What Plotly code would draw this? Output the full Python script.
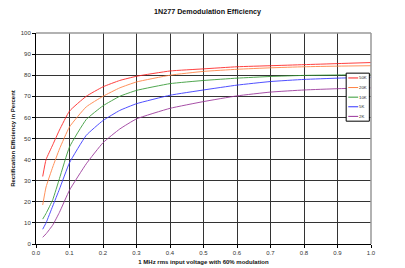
import plotly.graph_objects as go

x_vals = [0.02, 0.03, 0.05, 0.07, 0.1, 0.15, 0.2, 0.25, 0.3, 0.4, 0.5, 0.6, 0.7, 0.8, 0.9, 1.0]

series_names = ["50K", "20K", "10K", "5K", "2K"]
eff_50k = [32, 40, 47, 54, 63, 70, 74.5, 77.5, 79.5, 82, 83, 84, 84.5, 85, 85.5, 86]
eff_20k = [18.5, 27, 36.5, 45, 55.5, 65, 70, 74, 76.8, 80, 81.8, 82.8, 83.5, 84, 84.3, 84.5]
eff_10k = [11.8, 14.5, 21, 31, 46, 59, 65.5, 70, 72.8, 76, 77.5, 78.6, 79.4, 79.9, 80.1, 80.3]
eff_5k = [7, 10, 18, 26, 38.5, 51.5, 58.5, 63.3, 66.5, 70.5, 73, 75.3, 77, 78, 78.6, 79]
eff_2k = [3.2, 4.8, 9, 15, 25.5, 38, 48, 54.5, 59.3, 64.3, 67.5, 70.2, 72, 73, 73.6, 74]
series_values = [eff_50k, eff_20k, eff_10k, eff_5k, eff_2k]
series_colors = ["#FF2020", "#FF8040", "#339933", "#3333FF", "#993399"]

x_ticks = [i / 10 for i in range(11)]
x_tick_labels = [f"{t:.1f}" for t in x_ticks]
y_ticks = list(range(0, 101, 10))

FONT = "Liberation Sans"

fig = go.Figure()
for name, vals, col in zip(series_names, series_values, series_colors):
    fig.add_trace(go.Scatter(x=x_vals, y=vals, mode="lines", name=name, opacity=0.85,
                             line=dict(color=col, width=1, shape="spline", smoothing=0.4)))

fig.update_layout(
    width=405, height=268,
    margin=dict(l=36, r=34, t=33, b=24, autoexpand=False),
    paper_bgcolor="white", plot_bgcolor="white",
    showlegend=False,
    font=dict(family=FONT, color="#222", size=6),
    title=dict(text="<b>1N277 Demodulation Efficiency</b>", x=(154 + 261) / 2 / 405, xanchor="center",
               y=1 - 11 / 268, yanchor="middle", font=dict(size=7.2, family=FONT, color="#111")),
)
fig.update_xaxes(range=[0, 1], tickvals=x_ticks, ticktext=x_tick_labels,
                 showgrid=True, gridcolor="#333", gridwidth=1,
                 showline=True, linecolor="black", linewidth=1,
                 ticks="outside", ticklen=3, tickcolor="black",
                 tickfont=dict(size=6, family=FONT, color="#333"),
                 zeroline=False, automargin=False,
                 title=dict(text="<b>1 MHz rms input voltage with 60% modulation</b>",
                            font=dict(size=6, family=FONT, color="#111"), standoff=4))
fig.update_yaxes(range=[0, 100], tickvals=y_ticks,
                 showgrid=True, gridcolor="#333", gridwidth=1,
                 showline=True, linecolor="black", linewidth=1,
                 ticks="outside", ticklen=3, tickcolor="black",
                 tickfont=dict(size=6, family=FONT, color="#333"),
                 zeroline=False, automargin=False,
                 title=dict(text="<b>Rectification Efficiency in Percent</b>",
                            font=dict(size=6, family=FONT, color="#111"), standoff=4))

# plot frame (top/right in gray)
fig.add_shape(type="line", xref="x domain", yref="y domain", x0=0, x1=1, y0=1, y1=1,
              line=dict(color="#999", width=1.5))
fig.add_shape(type="line", xref="x domain", yref="y domain", x0=1, x1=1, y0=0, y1=1,
              line=dict(color="#999", width=1.5))

# custom legend box on the right
lx0, lx1 = 375 / 405, 403 / 405
ly_top, ly_bot = 1 - 51 / 268, 1 - 112 / 268
fig.add_shape(type="rect", xref="paper", yref="paper", x0=lx0, x1=lx1, y0=ly_bot, y1=ly_top,
              line=dict(color="black", width=1), fillcolor="white")
n = len(series_names)
step = (ly_top - ly_bot) / n
for i, (name, col) in enumerate(zip(series_names, series_colors)):
    yy = ly_top - step * (i + 0.5)
    fig.add_shape(type="line", xref="paper", yref="paper",
                  x0=377.5 / 405, x1=389.5 / 405, y0=yy, y1=yy, line=dict(color=col, width=1))
    fig.add_annotation(x=389.5 / 405, y=yy, xref="paper", yref="paper", text=name,
                       showarrow=False, xanchor="left", yanchor="middle", borderpad=0,
                       font=dict(size=4.3, family=FONT, color="#222"))

fig.write_html("out.html", config={"displayModeBar": False},
               post_script="document.body.style.margin='0px';document.body.style.overflow='hidden';")
